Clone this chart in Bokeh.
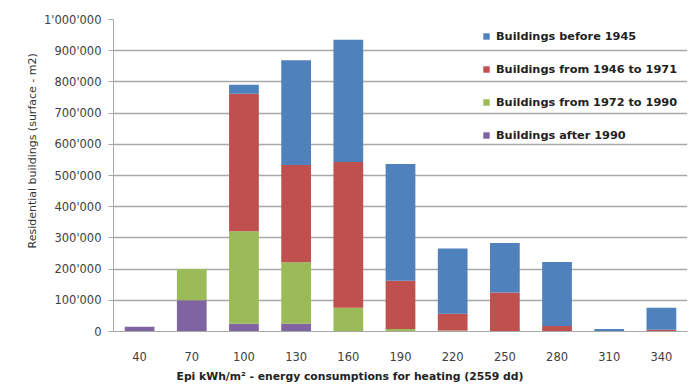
from bokeh.plotting import figure
from bokeh.models import (FactorRange, Range1d, Legend, LegendItem, Title,
                          CustomJSTickFormatter, SingleIntervalTicker)
from bokeh.embed import file_html
from bokeh.resources import INLINE

categories = ["40", "70", "100", "130", "160", "190", "220", "250", "280", "310", "340"]
after_1990 = [15000, 100000, 25000, 25000, 2000, 0, 0, 0, 0, 0, 0]
from_1972_to_1990 = [0, 100000, 296000, 197000, 74000, 8000, 3000, 0, 0, 0, 0]
from_1946_to_1971 = [0, 0, 441000, 312000, 467000, 155000, 54000, 125000, 18000, 2000, 6000]
before_1945 = [0, 0, 29000, 335000, 392000, 374000, 209000, 159000, 205000, 6000, 70000]

series_keys = ["after_1990", "from_1972_to_1990", "from_1946_to_1971", "before_1945"]
series_labels = ["Buildings after 1990", "Buildings from 1972 to 1990",
                 "Buildings from 1946 to 1971", "Buildings before 1945"]
colors = ["#8064A2", "#9BBB59", "#C0504D", "#4F81BD"]

data = dict(cat=categories, after_1990=after_1990, from_1972_to_1990=from_1972_to_1990,
            from_1946_to_1971=from_1946_to_1971, before_1945=before_1945)

p = figure(width=692, height=387, x_range=FactorRange(*categories),
           y_range=Range1d(0, 1000000), output_backend="svg", toolbar_location=None,
           min_border_left=113, min_border_right=5, min_border_top=19, min_border_bottom=20)
p.outline_line_color = None

renderers = p.vbar_stack(series_keys, x="cat", width=0.57, color=colors, source=data,
                         line_color=None)

p.xgrid.grid_line_color = None
p.ygrid.grid_line_color = "#a8a8a8"
p.ygrid.grid_line_width = 1.3
p.yaxis.ticker = SingleIntervalTicker(interval=100000)
p.yaxis.formatter = CustomJSTickFormatter(code="""
return Math.round(tick).toString().replace(/\\B(?=(\\d{3})+(?!\\d))/g, "'");
""")
p.yaxis.axis_line_color = "#a8a8a8"
p.yaxis.major_tick_line_color = "#a8a8a8"
p.yaxis.major_tick_out = 5
p.yaxis.major_tick_in = 0
p.yaxis.minor_tick_line_color = None
p.yaxis.major_label_text_font = "DejaVu Sans"
p.yaxis.major_label_text_font_size = "11.5px"
p.yaxis.major_label_text_color = "#404040"
p.yaxis.major_label_standoff = 7

ytitle = Title(text="Residential buildings (surface - m2)", align="left", offset=83,
               standoff=4, text_font="DejaVu Sans", text_font_style="normal",
               text_font_size="11px", text_color="#333333")
p.add_layout(ytitle, "left")

p.xaxis.axis_line_color = "#a8a8a8"
p.xaxis.major_tick_line_color = None
p.xaxis.major_label_text_font = "DejaVu Sans"
p.xaxis.major_label_text_font_size = "11.5px"
p.xaxis.major_label_text_color = "#404040"
p.xaxis.major_label_standoff = 14

xtitle = Title(text="Epi kWh/m\u00b2 - energy consumptions for heating (2559 dd)",
               align="left", offset=63, standoff=9,
               text_font="DejaVu Sans", text_font_style="bold",
               text_font_size="10.8px", text_color="#222222")
p.add_layout(xtitle, "below")

items = [LegendItem(label=series_labels[i], renderers=[renderers[i]]) for i in [3, 2, 1, 0]]
legend = Legend(items=items, location=(369, 186), orientation="vertical",
                glyph_width=8, glyph_height=8, label_height=20, spacing=13,
                label_standoff=6, padding=0, margin=0,
                background_fill_alpha=0, border_line_alpha=0,
                label_text_font="DejaVu Sans", label_text_font_style="bold",
                label_text_font_size="11.3px", label_text_color="#222222")
p.add_layout(legend)

open("out.html", "w").write(file_html(p, INLINE))
